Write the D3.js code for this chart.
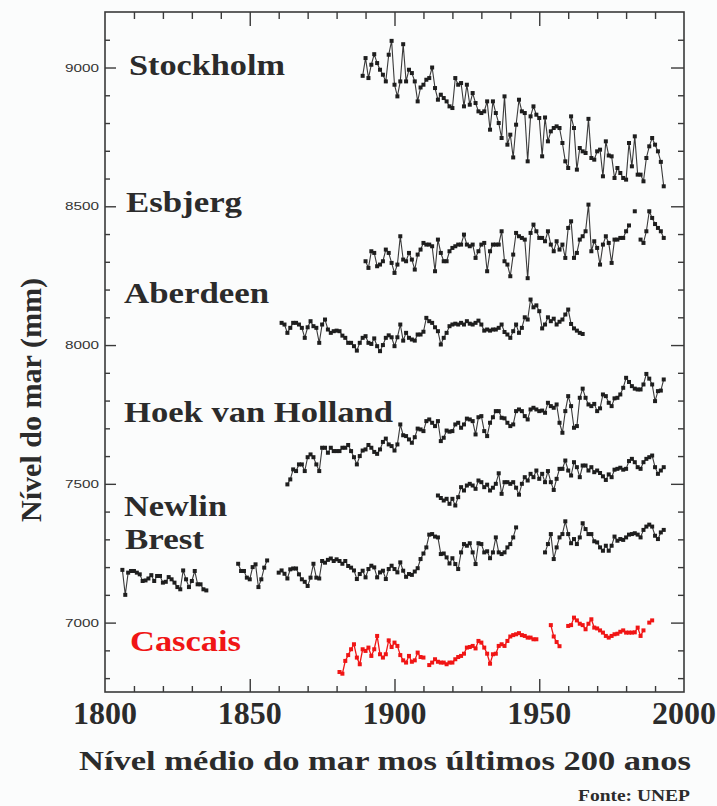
<!DOCTYPE html>
<html>
<head>
<meta charset="utf-8">
<script src="https://cdn.jsdelivr.net/npm/d3@7"></script>
<style>
  body { margin: 0; background: #fbfcfc; }
  svg { display: block; }
</style>
</head>
<body>
<div id="chart"></div>
<script>
// annual mean sea level (mm), one value per year from the start year, null = gap
const stockholmStart = 1889;
const stockholm = [
  8970, 9034, 8962, 9010, 9048, 9016, 8992, 8974, 8950, 9046,
  9096, 8938, 8896, 8950, 9084, 8950, 8992, 8980, 8950, 8878,
  8928, 8938, 8956, 8962, 9000, 8926, 8884, 8902, 8890, 8878,
  8860, 8854, 8962, 8938, 8944, 8860, 8938, 8866, 8908, 8872,
  8842, 8836, 8842, 8878, 8776, 8878, 8836, 8800, 8746, 8896,
  8722, 8758, 8676, 8794, 8884, 8842, 8836, 8662, 8824, 8860,
  8830, 8818, 8680, 8820, 8734, 8770, 8782, 8788, 8782, 8728,
  8662, 8638, 8824, 8782, 8632, 8710, 8698, 8692, 8815, 8674,
  8668, 8698, 8704, 8608, 8734, 8683, 8680, 8602, 8638, 8620,
  8602, 8596, 8728, 8644, 8752, 8614, 8614, 8590, 8674, 8716,
  8746, 8722, 8698, 8660, 8572
];

const esbjergStart = 1890;
const esbjerg = [
  8302, 8278, 8338, 8332, 8284, 8290, 8302, 8344, 8332, 8296,
  8260, 8290, 8392, 8308, 8302, 8332, 8308, 8272, 8326, 8344,
  8368, 8362, 8362, 8356, 8266, 8380, 8332, 8302, 8302, 8338,
  8350, 8356, 8362, 8362, 8398, 8362, 8356, 8362, 8314, 8338,
  8362, 8368, 8266, 8338, 8362, 8362, 8362, 8410, 8302, 8290,
  8248, 8326, 8404, 8392, 8386, 8380, 8241, 8404, 8434, 8410,
  8386, 8386, 8374, 8410, 8362, 8338, 8374, 8344, 8362, 8314,
  8422, 8446, 8314, 8332, 8380, 8392, 8410, 8506, 8338, 8374,
  8350, 8290, 8362, 8392, 8368, 8296, 8380, 8380, 8386, 8386,
  8410, 8431, null, 8482, null, 8380, 8368, 8410, 8482, 8458,
  8436, 8422, 8410, 8386
];

const aberdeenStart = 1861;
const aberdeen = [
  8080, 8074, 8044, 8062, 8080, 8080, 8074, 8062, 8026,
  8064, 8086, 8068, 8062, 8008, 8074, 8092, 8056, 8044, 8050,
  8052, 8050, 8034, 8026, 8008, 8008, 7996, 7980, 8008, 8026,
  8032, 8008, 8004, 8024, 7996, 7978, 8000, 8026, 8035, 8028,
  7996, 8028, 8074, 8016, 8044, 8026, 8020, 8016, 8038, 8038,
  8048, 8098, 8086, 8080, 8064, 8050, 8002, 8026, 8044, 8068,
  8074, 8077, 8074, 8080, 8074, 8086, 8077, 8074, 8080, 8088,
  8074, 8052, 8056, 8052, 8056, 8056, 8062, 8074, 8047, 8038,
  8026, 8050, 8074, 8044, 8062, 8100, 8092, 8164, 8136, 8143,
  8122, 8060, 8074, 8100, 8086, 8095, 8074, 8084, 8092, 8110,
  8128, 8076, 8060, 8052, 8044, 8040
];

const hoekStart = 1863;
const hoek = [
  7498, 7516, 7552, 7546, 7570, 7570, 7546,
  7596, 7606, 7596, 7570, 7546, 7630, 7630, 7612, 7630, 7618,
  7618, 7618, 7630, 7630, 7640, 7618, 7596, 7570, 7600, 7620,
  7624, 7640, 7630, 7615, 7608, 7624, 7651, 7663, 7642, 7636,
  7620, 7642, 7714, 7675, 7672, 7660, 7648, 7668, 7699, 7696,
  7690, 7726, 7732, 7720, 7708, 7726, 7654, 7666, 7692, 7688,
  7690, 7714, 7720, 7702, 7714, 7735, 7732, 7726, 7678, 7740,
  7744, 7690, 7672, 7720, 7740, 7762, 7762, 7738, 7736, 7720,
  7708, 7714, 7762, 7768, 7762, 7744, 7732, 7768, 7774, 7768,
  7762, 7764, 7756, 7792, 7780, 7774, 7786, 7720, 7684, 7762,
  7816, 7780, 7702, 7708, 7810, 7843, 7810, 7786, 7780, 7788,
  7762, 7772, 7822, 7816, 7792, 7780, 7808, 7810, 7822, 7846,
  7882, 7867, 7852, 7843, 7840, 7840, 7858, 7896, 7879, 7858,
  7798, 7834, 7836, 7876
];

const newlinStart = 1915;
const newlin = [
  7458, 7449, 7440, 7446, 7428, 7446, 7422, 7452, 7488, 7476,
  7494, 7500, 7494, 7482, 7512, 7506, 7488, 7497, 7476, 7486,
  7500, 7538, 7464, 7506, 7506, 7500, 7506, 7486, 7461, 7500,
  7524, 7512, 7536, 7524, 7548, 7518, 7536, 7506, 7546, 7506,
  7478, 7518, 7554, 7554, 7584, 7548, 7530, 7578, 7560, 7524,
  7566, 7566, 7548, 7560, 7542, 7548, 7539, 7527, 7514, 7534,
  7524, 7551, 7554, 7558, 7551, 7554, 7582, 7590, 7578, 7560,
  7554, 7578, 7590, 7596, 7602, 7560, 7536, 7548, 7560
];

const brestStart = 1806;
const brest = [
  7190, 7100, 7180, 7186,
  7186, 7180, 7174, 7150, 7152, 7159, 7171, 7150, 7168, 7168,
  7144, 7147, 7164, 7156, 7144, 7128, 7120, 7188, 7156, 7128,
  7150, 7186, 7138, 7138, 7120, 7116,
  null, null, null, null, null, null, null, null, null, null,
  7212, 7186, 7186, 7162,
  7156, 7200, 7210, 7128, 7156, 7198, 7224,
  null, null, null,
  7180, 7188, 7176, 7159, 7192, 7195, 7195, 7174, 7156, 7147,
  7132, 7162, 7212, 7162, 7159, 7222, 7216, 7226, 7231, 7222,
  7228, 7222, 7212, 7222, 7204, 7198, 7188, 7157, 7175, 7187,
  7163, 7193, 7205, 7199, 7163, 7181, 7187, 7157, 7193, 7205,
  7193, 7181, 7217, 7187, 7165, 7175, 7172, 7184, 7196, 7229,
  7249, 7271, 7317, 7319, 7310, 7307, 7247, 7249, 7235, 7213,
  7232, 7211, 7193, 7253, 7283, 7277, 7286, 7253, 7211, 7286,
  7283, 7253, 7257, 7232, 7253, 7307, 7253, 7247, 7253, 7271,
  7283, 7307, 7343,
  null, null, null, null, null, null, null, null, null,
  7253, 7283, 7319, 7229, 7271, 7307, 7319, 7365,
  7319, 7286, 7301, 7283, 7307, 7358, 7337, 7319, 7319, 7293,
  7289, 7271, 7259, 7277, 7259, 7277, 7310, 7295, 7301, 7298,
  7307, 7317, 7319, 7322, 7317, 7307, 7334, 7346, 7353, 7346,
  7313, 7301, 7325, 7334
];

const cascaisStart = 1881;
const cascais = [
  6822, 6816, 6862, 6883, 6904, 6922, 6874, 6850, 6904,
  6898, 6910, 6880, 6904, 6952, 6886, 6874, 6886, 6936, 6912,
  6928, 6916, 6883, 6864, 6856, 6880, 6859, 6864, 6892, 6876,
  6874, null, 6847, 6856, 6868, 6859, 6856, 6856, 6850, 6856,
  6856, 6868, 6876, 6880, 6888, 6910, 6912, 6916, 6907, 6934,
  6928, 6910, 6888, 6852, 6886, 6888, 6916, 6922, 6916, 6934,
  6950, 6955, 6958, 6962, 6955, 6952, 6946, 6946, 6940, 6940,
  null, null, null, null, 6991, 6950, 6930, 6915, null, null,
  6988, 6991, 7018, 7008, 6996, 6991, 6976, 6996, 7012, 6982,
  6979, 6972, 6964, 6952, 6946, 6952, 6958, 6960, 6967, 6972,
  6964, 6964, 6964, 6965, 6982, 6952, 6972, null, 7000, 7008
];

const stationNames = ["Stockholm", "Esbjerg", "Aberdeen", "Hoek van Holland", "Newlin", "Brest", "Cascais"];
const yTickValues = [7000, 7500, 8000, 8500, 9000];
const xTickValues = [1800, 1850, 1900, 1950, 2000];

const width = 717;
const height = 806;
const plot = { left: 105, right: 684, top: 12, bottom: 692 };

const svg = d3.select("#chart")
  .append("svg")
  .attr("width", width)
  .attr("height", height);

const x = d3.scaleLinear().domain([1800, 2000]).range([plot.left, plot.right]);
const y = d3.scaleLinear().domain([6750, 9200]).range([plot.bottom, plot.top]);

const ink = "#2b2b2b";
const red = "#f01515";
const serif = "'Liberation Serif', 'DejaVu Serif', serif";

// frame
svg.append("rect")
  .attr("x", plot.left).attr("y", plot.top)
  .attr("width", plot.right - plot.left).attr("height", plot.bottom - plot.top)
  .attr("fill", "none").attr("stroke", "#3a3a3a").attr("stroke-width", 1.6);

// inward ticks on all four sides
const yMinor = d3.range(6800, 9200, 100);
const xMinor = d3.range(1810, 2000, 10);

svg.append("g").attr("transform", `translate(${plot.left},0)`)
  .call(d3.axisRight(y).tickValues(yMinor).tickSize(0).tickFormat(""))
  .call(g => g.select(".domain").remove())
  .call(g => g.selectAll(".tick line")
    .attr("x2", d => d % 500 === 0 ? 11 : 5)
    .attr("stroke", "#3a3a3a").attr("stroke-width", 1.4));

svg.append("g").attr("transform", `translate(${plot.right},0)`)
  .call(d3.axisLeft(y).tickValues(yMinor).tickSize(0).tickFormat(""))
  .call(g => g.select(".domain").remove())
  .call(g => g.selectAll(".tick line")
    .attr("x2", d => d % 500 === 0 ? -13 : -6)
    .attr("stroke", "#3a3a3a").attr("stroke-width", 1.4));

svg.append("g").attr("transform", `translate(0,${plot.top})`)
  .call(d3.axisBottom(x).tickValues(xMinor).tickSize(0).tickFormat(""))
  .call(g => g.select(".domain").remove())
  .call(g => g.selectAll(".tick line")
    .attr("y2", d => d % 50 === 0 ? 14 : 7)
    .attr("stroke", "#3a3a3a").attr("stroke-width", 1.4));

svg.append("g").attr("transform", `translate(0,${plot.bottom})`)
  .call(d3.axisTop(x).tickValues(xMinor).tickSize(0).tickFormat(""))
  .call(g => g.select(".domain").remove())
  .call(g => g.selectAll(".tick line")
    .attr("y2", d => d % 50 === 0 ? -13 : -6)
    .attr("stroke", "#3a3a3a").attr("stroke-width", 1.4));

// y tick labels (small)
svg.append("g").selectAll("text")
  .data(yTickValues)
  .join("text")
  .attr("x", 99)
  .attr("y", d => y(d) + 4)
  .attr("text-anchor", "end")
  .attr("font-family", "'Liberation Sans', Arial, sans-serif")
  .attr("font-size", 11)
  .attr("textLength", 34)
  .attr("lengthAdjust", "spacingAndGlyphs")
  .attr("fill", "#333")
  .text(d => d);

// x tick labels (large bold)
svg.append("g").selectAll("text")
  .data(xTickValues)
  .join("text")
  .attr("x", d => x(d))
  .attr("y", 724)
  .attr("text-anchor", "middle")
  .attr("font-family", serif)
  .attr("font-weight", "bold")
  .attr("font-size", 31)
  .attr("textLength", 64)
  .attr("lengthAdjust", "spacingAndGlyphs")
  .attr("fill", ink)
  .text(d => d);

// axis titles
svg.append("text")
  .attr("transform", "translate(41,400) rotate(-90)")
  .attr("text-anchor", "middle")
  .attr("font-family", serif)
  .attr("font-weight", "bold")
  .attr("font-size", 30)
  .attr("textLength", 244)
  .attr("lengthAdjust", "spacingAndGlyphs")
  .attr("fill", ink)
  .text("Nível do mar (mm)");

svg.append("text")
  .attr("x", 79).attr("y", 770)
  .attr("font-family", serif)
  .attr("font-weight", "bold")
  .attr("font-size", 28)
  .attr("textLength", 612)
  .attr("lengthAdjust", "spacingAndGlyphs")
  .attr("fill", ink)
  .text("Nível médio do mar mos últimos 200 anos");

svg.append("text")
  .attr("x", 690).attr("y", 801)
  .attr("text-anchor", "end")
  .attr("font-family", serif)
  .attr("font-weight", "bold")
  .attr("font-size", 17)
  .attr("textLength", 112)
  .attr("lengthAdjust", "spacingAndGlyphs")
  .attr("fill", ink)
  .text("Fonte: UNEP");

// series
const series = [
  { name: stationNames[0], start: stockholmStart, values: stockholm },
  { name: stationNames[1], start: esbjergStart, values: esbjerg },
  { name: stationNames[2], start: aberdeenStart, values: aberdeen },
  { name: stationNames[3], start: hoekStart, values: hoek },
  { name: stationNames[4], start: newlinStart, values: newlin },
  { name: stationNames[5], start: brestStart, values: brest },
  { name: stationNames[6], start: cascaisStart, values: cascais }
];

const line = d3.line()
  .defined(d => d.v != null)
  .x(d => x(d.year))
  .y(d => y(d.v));

series.forEach(s => {
  const isRed = s.name === "Cascais";
  const pts = s.values.map((v, i) => ({ year: s.start + i, v }));
  const g = svg.append("g");
  g.append("path")
    .datum(pts)
    .attr("d", line)
    .attr("fill", "none")
    .attr("stroke", isRed ? red : "#3a3a3a")
    .attr("stroke-width", isRed ? 1.3 : 1.1);
  g.selectAll("rect")
    .data(pts.filter(d => d.v != null))
    .join("rect")
    .attr("x", d => x(d.year) - 2)
    .attr("y", d => y(d.v) - 2)
    .attr("width", 4)
    .attr("height", 4)
    .attr("fill", isRed ? red : "#1e1e1e");
});

// station labels
const labelPos = [
  { x: 129, y: 75, w: 156 },
  { x: 126, y: 212, w: 116 },
  { x: 124, y: 303, w: 145 },
  { x: 124, y: 422, w: 269 },
  { x: 124, y: 516, w: 103 },
  { x: 125, y: 549, w: 79 },
  { x: 130, y: 651, w: 111 }
];

svg.append("g").selectAll("text")
  .data(series)
  .join("text")
  .attr("x", (d, i) => labelPos[i].x)
  .attr("y", (d, i) => labelPos[i].y)
  .attr("font-family", serif)
  .attr("font-weight", "bold")
  .attr("font-size", 29)
  .attr("textLength", (d, i) => labelPos[i].w)
  .attr("lengthAdjust", "spacingAndGlyphs")
  .attr("fill", d => d.name === "Cascais" ? red : ink)
  .text(d => d.name);
</script>
</body>
</html>
